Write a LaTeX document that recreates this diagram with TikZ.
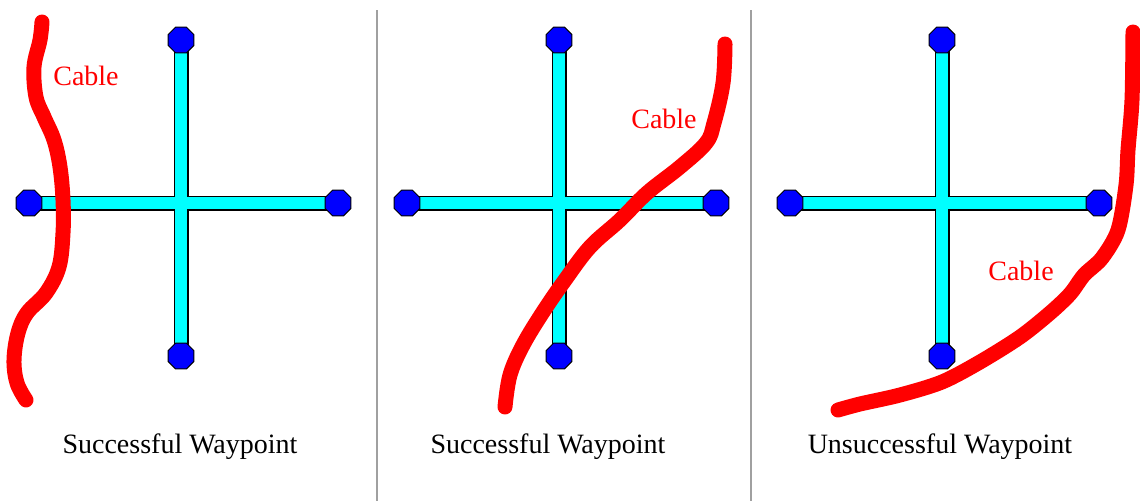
\documentclass[tikz,border=0pt]{standalone}
\usepackage{fontspec}
\setmainfont{Liberation Serif}
\usetikzlibrary{shapes.geometric}
\pgfdeclarelayer{bg}
\pgfsetlayers{bg,main}
\definecolor{wpblue}{RGB}{0,0,255}
\definecolor{barcyan}{RGB}{0,255,255}
\definecolor{cablered}{RGB}{255,0,0}
\definecolor{sepgray}{RGB}{160,160,160}
\begin{document}
\begin{tikzpicture}[x=1pt,y=-1pt,
  wp/.style={regular polygon, regular polygon sides=8, minimum size=28pt, inner sep=0pt,
             fill=wpblue, draw=black, line width=1pt},
  barout/.style={line width=15pt, draw=black},
  barin/.style={line width=12pt, draw=barcyan},
  cable/.style={line width=15pt, draw=cablered, line cap=round, line join=round},
  caption/.style={font=\fontsize{28}{32}\selectfont, anchor=base},
  clbl/.style={font=\fontsize{28}{32}\selectfont, text=cablered},
  sep/.style={draw=sepgray, line width=2pt}
]
\begin{pgfonlayer}{bg}
  \fill[white] (0,0) rectangle (1140,501);
\end{pgfonlayer}
\useasboundingbox (0,0) rectangle (1140,501);

% separators
\coordinate (s1a) at (377,10); \coordinate (s1b) at (377,501);
\coordinate (s2a) at (751,10); \coordinate (s2b) at (751,501);
\draw[sep] (s1a) -- (s1b);
\draw[sep] (s2a) -- (s2b);

% crosses
\foreach \i/\cx in {1/181,2/559,3/942}{
  \node[wp] (t\i) at (\cx,40) {};
  \node[wp] (b\i) at (\cx,356) {};
  \node[wp] (l\i) at (\cx-152,203) {};
  \node[wp] (r\i) at (\cx+157,203) {};
  \begin{pgfonlayer}{bg}
    \draw[barout] (l\i.center) -- (r\i.center);
    \draw[barout] (t\i.center) -- (b\i.center);
    \draw[barin] (l\i.center) -- (r\i.center);
    \draw[barin] (t\i.center) -- (b\i.center);
  \end{pgfonlayer}
}

% cables
\draw[cable] plot[smooth, tension=0.6] coordinates {
  (42,22) (40,40) (34,67) (36,97) (44,117) (54,140) (60,167) (63,200)
  (63,233) (59,267) (46,293) (27,313) (18,333) (14,360) (17,383) (26,400)};
\draw[cable] plot[smooth, tension=0.6] coordinates {
  (725,44) (723,83) (714,123) (706,143) (680,167) (647,193) (620,220)
  (590,247) (565,280) (543,312) (523,345) (510,375) (505,407)};
\draw[cable] plot[smooth, tension=0.5] coordinates {
  (1133,32) (1132,100) (1128,150) (1126,185) (1118,230) (1102,258) (1084,275)
  (1070,294) (1050,313) (1020,337) (980,362) (942,382) (900,395) (860,404) (838,410)};

% cable labels
\node[clbl] (c1) at (86,76) {Cable};
\node[clbl] (c2) at (664,119) {Cable};
\node[clbl] (c3) at (1021,271) {Cable};

% captions
\node[caption] (cap1) at (180,453) {Successful Waypoint};
\node[caption] (cap2) at (548,453) {Successful Waypoint};
\node[caption] (cap3) at (940,453) {Unsuccessful Waypoint};
\end{tikzpicture}
\end{document}
